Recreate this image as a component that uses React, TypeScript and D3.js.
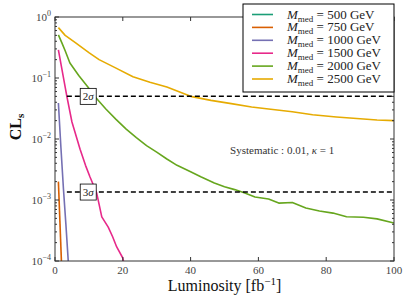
import * as d3 from "d3"

const W = 415
const H = 306
const margin = { top: 17, right: 21, bottom: 45, left: 55 }

const masses = ["500", "750", "1000", "1500", "2000", "2500"]
const colors = ["#1b9e77", "#d95f02", "#7570b3", "#e7298a", "#66a61e", "#e6ab02"]

const lumi500 = [1, 2]
const cls500 = [0.00002, 0.000001]
const lumi750 = [1, 2]
const cls750 = [0.002, 0.00007]
const lumi1000 = [1, 1.75, 2.5, 3.2, 4]
const cls1000 = [0.039, 0.0072, 0.0015, 0.00041, 0.000083]
const lumi1500 = [1, 3.5, 5, 7.4, 9, 10.3, 12.3, 13.8, 15.7, 17, 18.2, 20, 21]
const cls1500 = [0.29, 0.05, 0.019, 0.0068, 0.0037, 0.0024, 0.0013, 0.00053, 0.00036, 0.00025, 0.00017, 0.000112, 0.00006]
const lumi2000 = [1, 2, 3, 4.4, 7, 9.7, 12, 15, 18, 21, 24, 27, 30, 33, 36, 40, 43, 47, 50, 53, 56, 59, 63, 66, 70, 74, 78, 82, 86, 91, 95, 100]
const cls2000 = [0.51, 0.38, 0.28, 0.176, 0.11, 0.071, 0.048, 0.031, 0.021, 0.0145, 0.0105, 0.0078, 0.0061, 0.0047, 0.0037, 0.0029, 0.0024, 0.0019, 0.00165, 0.00148, 0.0013, 0.00112, 0.00104, 0.00089, 0.00091, 0.00074, 0.00066, 0.00061, 0.00053, 0.00052, 0.00049, 0.00042]
const lumi2500 = [1, 3, 6, 10, 13, 18, 23, 28, 33, 40, 46, 52, 58, 63, 70, 76, 83, 90, 95, 100]
const cls2500 = [0.67, 0.5, 0.38, 0.26, 0.2, 0.145, 0.105, 0.085, 0.071, 0.05, 0.043, 0.038, 0.0335, 0.031, 0.028, 0.025, 0.023, 0.0215, 0.0205, 0.02]

const lumis = [lumi500, lumi750, lumi1000, lumi1500, lumi2000, lumi2500]
const clsValues = [cls500, cls750, cls1000, cls1500, cls2000, cls2500]

const xTicks = [0, 20, 40, 60, 80, 100]
const yTickExps = [0, -1, -2, -3, -4]
const sigmaLevels = [
    { label: "2", value: 0.05 },
    { label: "3", value: 0.00135 },
]
const sigmaLineStart = 3.5
const sigmaLabelAt = 9.8
const systematicText = { x: 67, y: 0.0057 }

const FONT = "'Liberation Serif', 'DejaVu Serif', serif"

export default function App() {
    const innerRight = W - margin.right
    const innerBottom = H - margin.bottom

    const x = d3.scaleLinear().domain([0, 100]).range([margin.left, innerRight])
    const y = d3.scaleLog().domain([1e-4, 1]).range([innerBottom, margin.top])

    const line = d3.line<[number, number]>()
        .x(d => x(d[0]))
        .y(d => y(d[1]))

    const series = masses.map((m, i) => ({
        mass: m,
        color: colors[i],
        points: lumis[i].map((l, j) => [l, clsValues[i][j]] as [number, number]),
    }))

    const minorTicks: number[] = []
    for (let e = -4; e < 0; e++) {
        for (let k = 2; k <= 9; k++) minorTicks.push(k * Math.pow(10, e))
    }

    const axisColor = "#333"
    const tickColor = "#444"

    return (
        <svg width={W} height={H} style={{ display: "block", position: "absolute", left: 0, top: 0 }} fontFamily={FONT}>
            <rect width={W} height={H} fill="#fff" />
            <defs>
                <clipPath id="plotclip">
                    <rect x={margin.left} y={margin.top} width={innerRight - margin.left} height={innerBottom - margin.top} />
                </clipPath>
            </defs>

            {/* curves */}
            <g clipPath="url(#plotclip)">
                {series.map(s => (
                    <path key={s.mass} d={line(s.points) ?? ""} fill="none" stroke={s.color} strokeWidth={1.6} strokeLinejoin="round" />
                ))}
            </g>

            {/* sigma lines */}
            {sigmaLevels.map(s => (
                <g key={s.label}>
                    <line x1={x(sigmaLineStart)} x2={innerRight} y1={y(s.value)} y2={y(s.value)}
                        stroke="#000" strokeWidth={1.5} strokeDasharray="5,3" />
                    <rect x={x(sigmaLabelAt) - 8} y={y(s.value) - 8} width={16} height={16} fill="#fff" stroke="#000" strokeWidth={0.8} />
                    <text x={x(sigmaLabelAt)} y={y(s.value) + 4} textAnchor="middle" fontSize={11} fill="#222">
                        {s.label}<tspan fontStyle="italic">σ</tspan>
                    </text>
                </g>
            ))}

            <text x={x(systematicText.x)} y={y(systematicText.y)} textAnchor="middle" fontSize={11} fill="#333">
                Systematic : 0.01, <tspan fontStyle="italic">κ</tspan> = 1
            </text>

            {/* frame */}
            <rect x={margin.left} y={margin.top} width={innerRight - margin.left} height={innerBottom - margin.top}
                fill="none" stroke={axisColor} strokeWidth={1} />

            {/* x ticks */}
            {xTicks.map(t => (
                <g key={"x" + t}>
                    <line x1={x(t)} x2={x(t)} y1={innerBottom} y2={innerBottom - 4} stroke={axisColor} />
                    <line x1={x(t)} x2={x(t)} y1={margin.top} y2={margin.top + 4} stroke={axisColor} />
                    <text x={x(t)} y={innerBottom + 13} textAnchor="middle" fontSize={11} fill={tickColor}>{t}</text>
                </g>
            ))}

            {/* y ticks */}
            {yTickExps.map(e => {
                const v = Math.pow(10, e)
                return (
                    <g key={"y" + e}>
                        <line x1={margin.left} x2={margin.left + 4} y1={y(v)} y2={y(v)} stroke={axisColor} />
                        <line x1={innerRight} x2={innerRight - 4} y1={y(v)} y2={y(v)} stroke={axisColor} />
                        <text x={margin.left - 4} y={y(v) + 4} textAnchor="end" fontSize={11} fill={tickColor}>
                            10<tspan fontSize={8} dy={-5}>{e === 0 ? "0" : "−" + Math.abs(e)}</tspan>
                        </text>
                    </g>
                )
            })}
            {minorTicks.map((v, i) => (
                <g key={"m" + i}>
                    <line x1={margin.left} x2={margin.left + 2} y1={y(v)} y2={y(v)} stroke={axisColor} />
                    <line x1={innerRight} x2={innerRight - 2} y1={y(v)} y2={y(v)} stroke={axisColor} />
                </g>
            ))}

            {/* axis labels */}
            <text x={(margin.left + innerRight) / 2} y={291} textAnchor="middle" fontSize={16} fill="#111">
                Luminosity [fb<tspan fontSize={11} dy={-6}>−1</tspan><tspan dy={6}>]</tspan>
            </text>
            <text transform={`translate(21,127) rotate(-90)`} textAnchor="middle" fontSize={16} fontWeight="bold" fill="#111">
                CL<tspan fontSize={11} dy={3}>s</tspan>
            </text>

            {/* legend */}
            <g>
                <rect x={243} y={4} width={innerRight - 243} height={88} fill="#fff" stroke="#000" strokeWidth={1} />
                {series.map((s, i) => {
                    const ly = 14.5 + i * 12.9
                    return (
                        <g key={"l" + s.mass}>
                            <line x1={252} x2={273} y1={ly} y2={ly} stroke={s.color} strokeWidth={1.6} />
                            <text x={287} y={ly + 4} fontSize={13} fill="#222">
                                <tspan fontStyle="italic">M</tspan>
                                <tspan fontSize={9} dy={3}>med</tspan>
                                <tspan dy={-3}> = {s.mass} GeV</tspan>
                            </text>
                        </g>
                    )
                })}
            </g>
        </svg>
    )
}
